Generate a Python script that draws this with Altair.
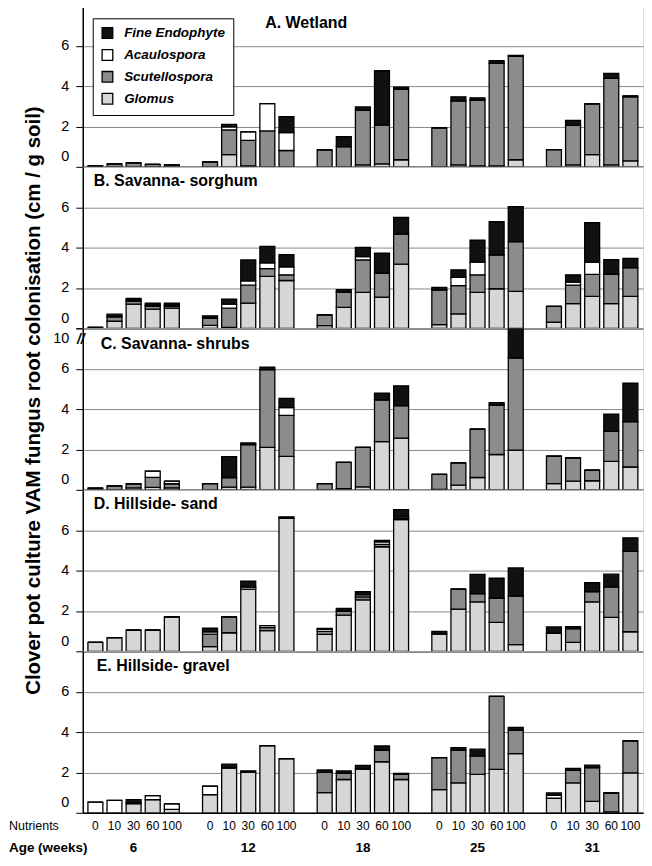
import altair as alt
import pandas as pd

ages = ["6", "12", "18", "25", "31"]
nutrients = ["0", "10", "30", "60", "100"]
species = ["Glomus", "Scutellospora", "Acaulospora", "Fine Endophyte"]
legend_order = ["Fine Endophyte", "Acaulospora", "Scutellospora", "Glomus"]
legend_colors = ["#111111", "#ffffff", "#8c8c8c", "#d6d6d6"]

# A. Wetland
A_glomus = [0, 0, 0, 0, 0, 0, 0.6, 0.05, 0, 0, 0, 0, 0.1, 0.15, 0.35, 0, 0.1, 0.05, 0.05, 0.35, 0, 0.1, 0.6, 0.1, 0.3]
A_scut = [0.05, 0.15, 0.2, 0.12, 0.1, 0.25, 1.23, 1.26, 1.78, 0.81, 0.84, 1.0, 2.7, 1.93, 3.5, 1.93, 3.17, 3.25, 5.08, 5.12, 0.85, 1.95, 2.52, 4.28, 3.17]
A_acaul = [0, 0, 0, 0, 0, 0, 0.15, 0.42, 1.35, 0.89, 0, 0, 0, 0, 0, 0, 0, 0, 0, 0, 0, 0, 0, 0, 0.05]
A_fe = [0, 0, 0, 0, 0, 0, 0.12, 0, 0, 0.79, 0, 0.5, 0.17, 2.68, 0.1, 0, 0.2, 0.12, 0.13, 0.05, 0, 0.25, 0, 0.25, 0]

# B. Savanna- sorghum
B_glomus = [0, 0.35, 1.2, 0.95, 1.0, 0.15, 0.05, 1.25, 2.57, 2.37, 0.13, 1.04, 1.78, 1.55, 3.18, 0.18, 0.72, 1.78, 1.96, 1.83, 0.3, 1.22, 1.58, 1.22, 1.58]
B_scut = [0.05, 0.2, 0.15, 0.15, 0.1, 0.35, 0.95, 0.89, 0.39, 0.28, 0.54, 0.74, 1.61, 1.19, 1.5, 1.73, 1.4, 0.87, 1.68, 2.47, 0.79, 0.92, 1.09, 1.47, 1.43]
B_acaul = [0, 0.05, 0.05, 0.05, 0.05, 0, 0.2, 0.21, 0.28, 0.39, 0, 0, 0.16, 0, 0, 0, 0.4, 0.63, 0, 0, 0, 0.15, 0.61, 0, 0]
B_fe = [0, 0.1, 0.08, 0.1, 0.1, 0.12, 0.25, 1.04, 0.82, 0.61, 0, 0.13, 0.46, 0.99, 0.81, 0.12, 0.38, 1.09, 1.65, 1.73, 0, 0.36, 1.96, 0.71, 0.46]

# C. Savanna- shrubs
C_glomus = [0, 0, 0.1, 0.12, 0.1, 0, 0.13, 0.13, 2.1, 1.66, 0, 0.06, 0.15, 2.39, 2.56, 0.02, 0.23, 0.61, 1.75, 1.97, 0.31, 0.43, 0.45, 1.41, 1.13]
C_scut = [0.08, 0.2, 0.2, 0.5, 0.2, 0.31, 0.48, 2.11, 3.85, 2.03, 0.31, 1.3, 1.95, 2.07, 1.61, 0.75, 1.1, 2.39, 2.44, 4.57, 1.36, 1.15, 0.53, 1.49, 2.25]
C_acaul = [0, 0, 0, 0.31, 0.13, 0, 0, 0, 0, 0.38, 0, 0, 0, 0, 0, 0, 0, 0, 0, 0, 0, 0, 0, 0, 0]
C_fe = [0, 0, 0, 0, 0, 0, 1.03, 0.08, 0.13, 0.46, 0, 0, 0, 0.33, 0.98, 0, 0, 0, 0.13, 3.5, 0, 0, 0, 0.85, 1.9]

# D. Hillside- sand
D_glomus = [0.44, 0.68, 1.05, 1.05, 1.71, 0.23, 0.92, 3.08, 1.02, 6.6, 0.84, 1.79, 2.55, 5.18, 6.53, 0.86, 2.09, 2.45, 1.43, 0.33, 0.9, 0.44, 2.45, 1.68, 0.97]
D_scut = [0, 0, 0, 0, 0, 0.62, 0.79, 0, 0.15, 0, 0.15, 0.2, 0.15, 0.12, 0.05, 0, 0.99, 0.41, 1.2, 2.42, 0, 0.69, 0.51, 1.51, 3.98]
D_acaul = [0, 0, 0, 0, 0, 0.12, 0, 0.1, 0.1, 0, 0.1, 0, 0.1, 0.12, 0.08, 0, 0, 0, 0, 0, 0, 0, 0, 0, 0]
D_fe = [0, 0, 0, 0, 0, 0.18, 0, 0.3, 0, 0.06, 0.05, 0.13, 0.15, 0.08, 0.36, 0.13, 0, 0.95, 1.0, 1.38, 0.31, 0.09, 0.44, 0.63, 0.67]

# E. Hillside- gravel
E_glomus = [0, 0, 0.45, 0.65, 0.17, 0.9, 2.23, 2.0, 3.33, 2.68, 1.0, 1.65, 2.18, 2.53, 1.65, 1.15, 1.48, 1.9, 2.15, 2.93, 0.73, 1.48, 0.57, 0.05, 1.98]
E_scut = [0, 0, 0, 0, 0, 0, 0, 0, 0, 0, 1.0, 0.3, 0, 0.58, 0.25, 1.58, 1.62, 0.92, 3.62, 1.17, 0, 0.62, 1.67, 0.93, 1.58]
E_acaul = [0.53, 0.62, 0.05, 0.2, 0.27, 0.42, 0, 0, 0, 0, 0, 0, 0, 0, 0, 0, 0, 0, 0, 0, 0.13, 0, 0, 0, 0]
E_fe = [0, 0, 0.15, 0, 0, 0, 0.18, 0.08, 0, 0, 0.12, 0.12, 0.17, 0.2, 0.05, 0, 0.13, 0.33, 0, 0.13, 0.12, 0.1, 0.12, 0, 0]

panel_titles = ["A. Wetland", "B. Savanna- sorghum", "C. Savanna- shrubs", "D. Hillside- sand", "E. Hillside- gravel"]
panel_series = [
    (A_glomus, A_scut, A_acaul, A_fe),
    (B_glomus, B_scut, B_acaul, B_fe),
    (C_glomus, C_scut, C_acaul, C_fe),
    (D_glomus, D_scut, D_acaul, D_fe),
    (E_glomus, E_scut, E_acaul, E_fe),
]
title_offsets = [(183, 10), (11, 6), (18, 8), (11, 6), (14, 7)]
y_title = "Clover pot culture VAM fungus root colonisation (cm / g soil)"

W, H = 562, 162
FONT = "Liberation Sans"


def long_frame(series):
    rows = []
    for s_idx, (sp, vals) in enumerate(zip(species, series)):
        for k, v in enumerate(vals):
            g, i = divmod(k, 5)
            rows.append({"pos": g * 6 + i, "species": sp, "value": v, "ord": s_idx})
    return pd.DataFrame(rows)


legend = alt.Legend(
    title=None, orient="none", legendX=10, legendY=13, direction="vertical",
    strokeColor="black", fillColor="white", padding=8,
    symbolType="square", symbolSize=115, symbolStrokeColor="black", symbolStrokeWidth=1.3,
    labelFont=FONT, labelFontSize=13.5, labelFontStyle="italic", labelFontWeight="bold",
    labelColor="black", rowPadding=5, labelOffset=10,
)

panels = []
for p, (ttl, series) in enumerate(zip(panel_titles, panel_series)):
    df = long_frame(series)
    last = p == 4
    xaxis = alt.Axis(labels=False, ticks=False, grid=False, title=None,
                     domainColor="black", domainWidth=1.5)
    yvals = [0, 2, 4, 6, 8] if p == 2 else [0, 2, 4, 6]
    yaxis_kwargs = dict(values=yvals, grid=True, gridColor="#8a8a8a", gridWidth=1,
                        tickColor="black", tickSize=7, labelFontSize=14.5, labelFont=FONT,
                        labelColor="black", labelPadding=7, domainColor="black", domainWidth=1.5,
                        labelFlush=True, labelFlushOffset=-3)
    if p == 2:
        yaxis = alt.Axis(title=y_title, titleFontSize=20.5, titleFont=FONT, titleFontWeight="bold",
                         titleColor="black", titlePadding=9, titleY=72,
                         labelExpr="datum.value == 8 ? '10' : datum.label", **yaxis_kwargs)
    else:
        yaxis = alt.Axis(title=None, **yaxis_kwargs)

    xscale = alt.Scale(domain=[-0.4, 28.4], nice=False, zero=False)
    bars = alt.Chart(df).mark_bar(size=15, stroke="black", strokeWidth=1.3, clip=True).encode(
        x=alt.X("pos:Q", scale=xscale, axis=xaxis),
        y=alt.Y("value:Q", stack="zero", scale=alt.Scale(domain=[0, 8], nice=False), axis=yaxis),
        color=alt.Color("species:N", scale=alt.Scale(domain=legend_order, range=legend_colors), legend=legend),
        order=alt.Order("ord:Q", sort="ascending"),
    )
    tx, ty = title_offsets[p]
    title = alt.Chart(pd.DataFrame({"t": [ttl]})).mark_text(
        align="left", baseline="top", fontSize=16, fontWeight="bold", font=FONT, color="black"
    ).encode(x=alt.value(tx), y=alt.value(ty), text="t:N")
    layers = [bars, title]
    if p == 2:
        brk = alt.Chart(pd.DataFrame({"t": ["//"]})).mark_text(
            align="center", baseline="middle", fontSize=14, fontWeight="bold", fontStyle="italic",
            font=FONT, color="black"
        ).encode(x=alt.value(-2), y=alt.value(12), text="t:N")
        layers.append(brk)
    if last:
        nut_df = pd.DataFrame({"pos": [g * 6 + i for g in range(5) for i in range(5)],
                               "lab": nutrients * 5})
        nut_text = alt.Chart(nut_df).mark_text(
            fontSize=12, font=FONT, color="black", baseline="middle"
        ).encode(x=alt.X("pos:Q", scale=xscale), y=alt.value(H + 13), text="lab:N")
        age_df = pd.DataFrame({"pos": [g * 6 + 2 for g in range(5)], "age": ages})
        age_text = alt.Chart(age_df).mark_text(
            fontSize=13.5, fontWeight="bold", font=FONT, color="black", baseline="middle"
        ).encode(x=alt.X("pos:Q", scale=xscale), y=alt.value(H + 35), text="age:N")
        nut_lbl = alt.Chart(pd.DataFrame({"t": ["Nutrients"]})).mark_text(
            align="left", baseline="middle", font=FONT, color="black", fontSize=12.5
        ).encode(x=alt.value(-74), y=alt.value(H + 13), text="t:N")
        age_lbl = alt.Chart(pd.DataFrame({"t": ["Age (weeks)"]})).mark_text(
            align="left", baseline="middle", font=FONT, color="black", fontSize=13.5, fontWeight="bold"
        ).encode(x=alt.value(-74), y=alt.value(H + 35), text="t:N")
        layers += [nut_text, age_text, nut_lbl, age_lbl]
    panels.append(alt.layer(*layers).properties(width=W, height=H))

chart = alt.vconcat(*panels, spacing=0, bounds="flush").properties(
    padding={"left": 0, "top": -5, "right": 0, "bottom": 0}
).configure_view(stroke="black", strokeWidth=1.2).configure(font=FONT)

chart.save("out.html", embed_options={"renderer": "svg", "actions": False})
